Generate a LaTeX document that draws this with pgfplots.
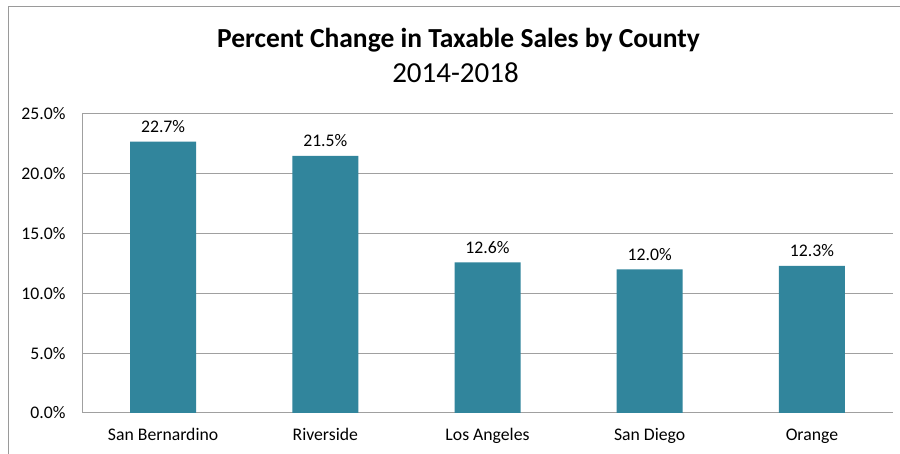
\documentclass[border=0pt]{standalone}
\usepackage{pgfplots}
\pgfplotsset{compat=1.18}
\usepackage{fontspec}
\setmainfont{Carlito}
\definecolor{barc}{HTML}{31859C}
\definecolor{gridc}{HTML}{A0A0A0}
\definecolor{framec}{HTML}{9A9A9A}
\begin{document}
\begin{tikzpicture}[x=1pt,y=1pt]
\useasboundingbox (0,0) rectangle (900,454);
\fill[white] (0,0) rectangle (900,454);
\draw[framec, line width=1pt] (8,-20) -- (8,447) -- (920,447);
\node[anchor=base, inner sep=0, font=\fontsize{27.5}{32}\selectfont\bfseries] at (458.5,406) {Percent Change in Taxable Sales by County};
\node[anchor=base, inner sep=0, font=\fontsize{29}{34}\selectfont] at (455.5,371) {2014-2018};
\begin{axis}[
  at={(82pt,41pt)}, anchor=south west,
  scale only axis, width=811pt, height=299pt,
  xmin=-0.5, xmax=4.5, ymin=0, ymax=25,
  axis lines=left,
  axis line style={gridc, line width=1pt, -},
  x axis line style={draw=none},
  ymajorgrids, grid style={gridc, line width=1pt},
  major tick length=0pt,
  xtick={0,1,2,3,4},
  xticklabels={San Bernardino,Riverside,Los Angeles,San Diego,Orange},
  ytick={0,5,10,15,20,25},
  yticklabels={0.0\%,5.0\%,10.0\%,15.0\%,20.0\%,25.0\%},
  ticklabel style={font=\fontsize{17.7}{21}\selectfont, text=black},
  yticklabel style={xshift=-13pt},
  xticklabel style={yshift=-12pt},
  /pgf/number format/assume math mode=true,
  clip=false,
]
\addplot[ybar, bar width=66pt, fill=barc, draw=none,
  nodes near coords={\pgfmathprintnumber[fixed,fixed zerofill,precision=1]{\pgfplotspointmeta}\%},
  every node near coord/.append style={font=\fontsize{17.7}{21}\selectfont, text=black, anchor=base, inner sep=0pt, yshift=9pt},
] coordinates {(0,22.7) (1,21.5) (2,12.6) (3,12.0) (4,12.3)};
\end{axis}
\end{tikzpicture}
\end{document}
